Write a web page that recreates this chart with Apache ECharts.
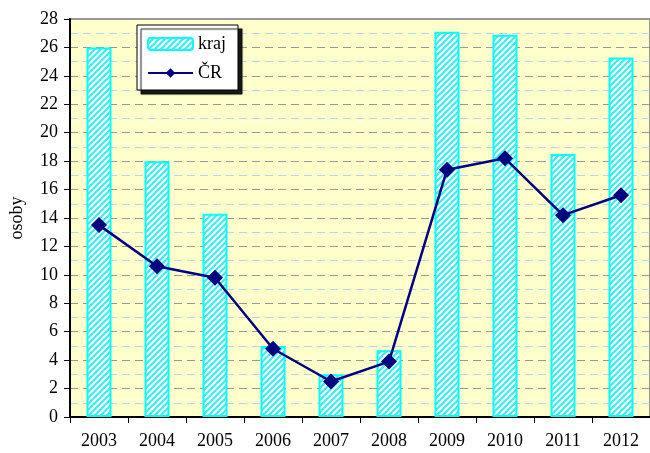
<!DOCTYPE html>
<html>
<head>
<meta charset="utf-8">
<script src="https://cdn.jsdelivr.net/npm/echarts@6/dist/echarts.min.js"></script>
<style>
html,body{margin:0;padding:0;background:#fff;}
#chart{width:650px;height:453px;}
</style>
</head>
<body>
<div id="chart"></div>
<script>
const categories = ['2003','2004','2005','2006','2007','2008','2009','2010','2011','2012'];
const krajValues = [26.0, 18.0, 14.3, 5.0, 3.0, 4.7, 27.1, 26.9, 18.5, 25.3];
const crValues = [13.5, 10.6, 9.8, 4.8, 2.5, 3.9, 17.4, 18.2, 14.2, 15.6];
const seriesNames = ['kraj', 'ČR'];
const yAxisName = 'osoby';

function hatch() {
  const N = 6;
  const c = document.createElement('canvas');
  c.width = N; c.height = N;
  const g = c.getContext('2d');
  g.fillStyle = '#ffffff';
  g.fillRect(0, 0, N, N);
  g.strokeStyle = '#33eef5';
  g.lineWidth = 2.0;
  [[0, N, N, 0], [-N, N, N, -N], [0, 2 * N, 2 * N, 0]].forEach(l => {
    g.beginPath(); g.moveTo(l[0], l[1]); g.lineTo(l[2], l[3]); g.stroke();
  });
  return c;
}

const font = 'Liberation Serif';
const chart = echarts.init(document.getElementById('chart'), null, {renderer: 'canvas'});
const pattern = {image: hatch(), repeat: 'repeat'};

chart.setOption({
  animation: false,
  textStyle: {fontFamily: font},
  grid: {left: 63, right: 0, top: 19, bottom: 36, show: true,
    backgroundColor: '#FFFFCC', borderColor: '#999999', borderWidth: 2},
  legend: {
    orient: 'vertical', left: 137, top: 25,
    data: seriesNames,
    backgroundColor: '#ffffff', borderColor: '#000000', borderWidth: 1,
    shadowColor: 'rgba(0,0,0,0.9)', shadowBlur: 1, shadowOffsetX: 4, shadowOffsetY: 4,
    padding: [10, 12, 8, 10], itemGap: 11, itemWidth: 45, itemHeight: 12,
    textStyle: {fontFamily: font, fontSize: 18, color: '#000'}
  },
  xAxis: {
    type: 'category', data: categories, boundaryGap: true,
    axisLine: {lineStyle: {color: '#000', width: 2}},
    axisTick: {show: true, length: 6, alignWithLabel: false, lineStyle: {color: '#000'}},
    axisLabel: {fontFamily: font, fontSize: 18, color: '#000', margin: 15},
    splitLine: {show: false}
  },
  yAxis: [{
    type: 'value', min: 0, max: 28, interval: 2,
    name: yAxisName, nameLocation: 'middle', nameRotate: 90, nameGap: 44,
    nameTextStyle: {fontFamily: font, fontSize: 18, color: '#000'},
    axisLine: {show: true, lineStyle: {color: '#000', width: 2}},
    axisTick: {show: true, length: 6, inside: false, lineStyle: {color: '#000'}},
    axisLabel: {fontFamily: font, fontSize: 18, color: '#000', margin: 12},
    splitLine: {show: true, lineStyle: {color: '#999999', type: [8, 5], width: 1}}
  }, {
    type: 'value', min: 0, max: 28, interval: 1, position: 'right',
    axisLine: {show: false}, axisTick: {show: false}, axisLabel: {show: false},
    splitLine: {show: true, lineStyle: {color: ['rgba(0,0,0,0)', '#b8d4ee'], type: [8, 5], width: 1}}
  }],
  series: [{
    name: seriesNames[0], type: 'bar', data: krajValues, barWidth: 25, yAxisIndex: 0,
    itemStyle: {color: pattern, borderColor: '#00FFFF', borderWidth: 2}
  }, {
    name: seriesNames[1], type: 'line', data: crValues, yAxisIndex: 0,
    symbol: 'diamond', symbolSize: 16,
    lineStyle: {color: '#000080', width: 2.5},
    itemStyle: {color: '#000080'}
  }]
});
</script>
</body>
</html>
